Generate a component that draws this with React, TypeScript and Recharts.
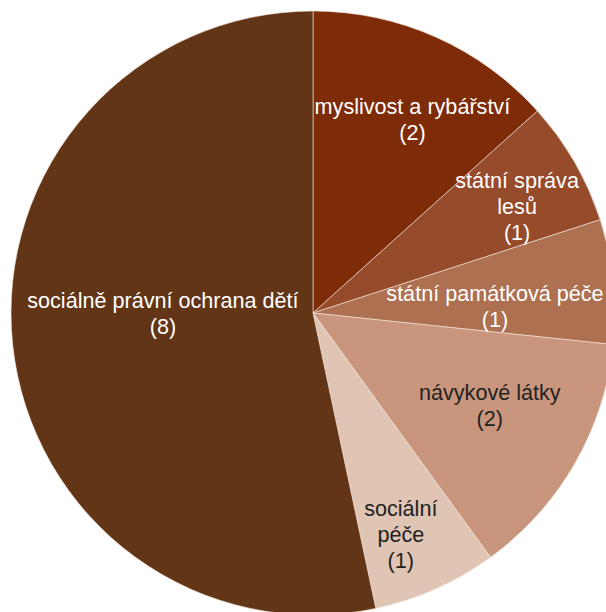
import React from "react";
import { PieChart, Pie, Cell } from "recharts";

const categories = [
  "myslivost a rybářství",
  "státní správa lesů",
  "státní památková péče",
  "návykové látky",
  "sociální péče",
  "sociálně právní ochrana dětí",
];
const values = [2, 1, 1, 2, 1, 8];
const labelLines = [
  ["myslivost a rybářství"],
  ["státní správa", "lesů"],
  ["státní památková péče"],
  ["návykové látky"],
  ["sociální", "péče"],
  ["sociálně právní ochrana dětí"],
];
const colors = ["#7E2B08", "#964B2B", "#AD7051", "#C9967D", "#E0C5B4", "#623516"];
const textColors = ["#ffffff", "#ffffff", "#ffffff", "#222222", "#222222", "#ffffff"];

// label placement: clockwise angle shift (deg) and radius fraction
const labelLayout = [
  { dTheta: 3.2, rf: 0.72 },
  { dTheta: 2.5, rf: 0.762 },
  { dTheta: 3.8, rf: 0.603 },
  { dTheta: -2.5, rf: 0.66 },
  { dTheta: 2.4, rf: 0.79 },
  { dTheta: 6, rf: 0.497 },
];

const data = categories.map((name, i) => ({ name, value: values[i] }));

const RAD = Math.PI / 180;

const renderLabel = (props: any) => {
  const { cx, cy, midAngle, outerRadius, index } = props;
  const lay = labelLayout[index];
  const a = midAngle - lay.dTheta;
  const r = outerRadius * lay.rf;
  const x = cx + r * Math.cos(-a * RAD);
  const y = cy + r * Math.sin(-a * RAD);
  const lines = [...labelLines[index], `(${values[index]})`];
  const lh = 26;
  return (
    <text
      x={x}
      y={y}
      textAnchor="middle"
      fill={textColors[index]}
      style={{ fontFamily: "'Liberation Sans', Arial, sans-serif", fontSize: 21.6 }}
    >
      {lines.map((l, i) => (
        <tspan key={i} x={x} y={y + (i - (lines.length - 1) / 2) * lh} dominantBaseline="central">
          {l}
        </tspan>
      ))}
    </text>
  );
};

export default function App() {
  return (
    <div style={{ position: "absolute", left: 0, top: 0, width: 606, height: 612, background: "#fff" }}>
      <PieChart width={606} height={612} margin={{ top: 0, right: 0, bottom: 0, left: 0 }}>
        <Pie
          data={data}
          dataKey="value"
          nameKey="name"
          cx={313}
          cy={313}
          outerRadius={302}
          startAngle={90}
          endAngle={-270}
          stroke="#f3e6de"
          strokeWidth={0.6}
          label={renderLabel}
          labelLine={false}
          isAnimationActive={false}
        >
          {data.map((d, i) => (
            <Cell key={d.name} fill={colors[i]} />
          ))}
        </Pie>
      </PieChart>
    </div>
  );
}
